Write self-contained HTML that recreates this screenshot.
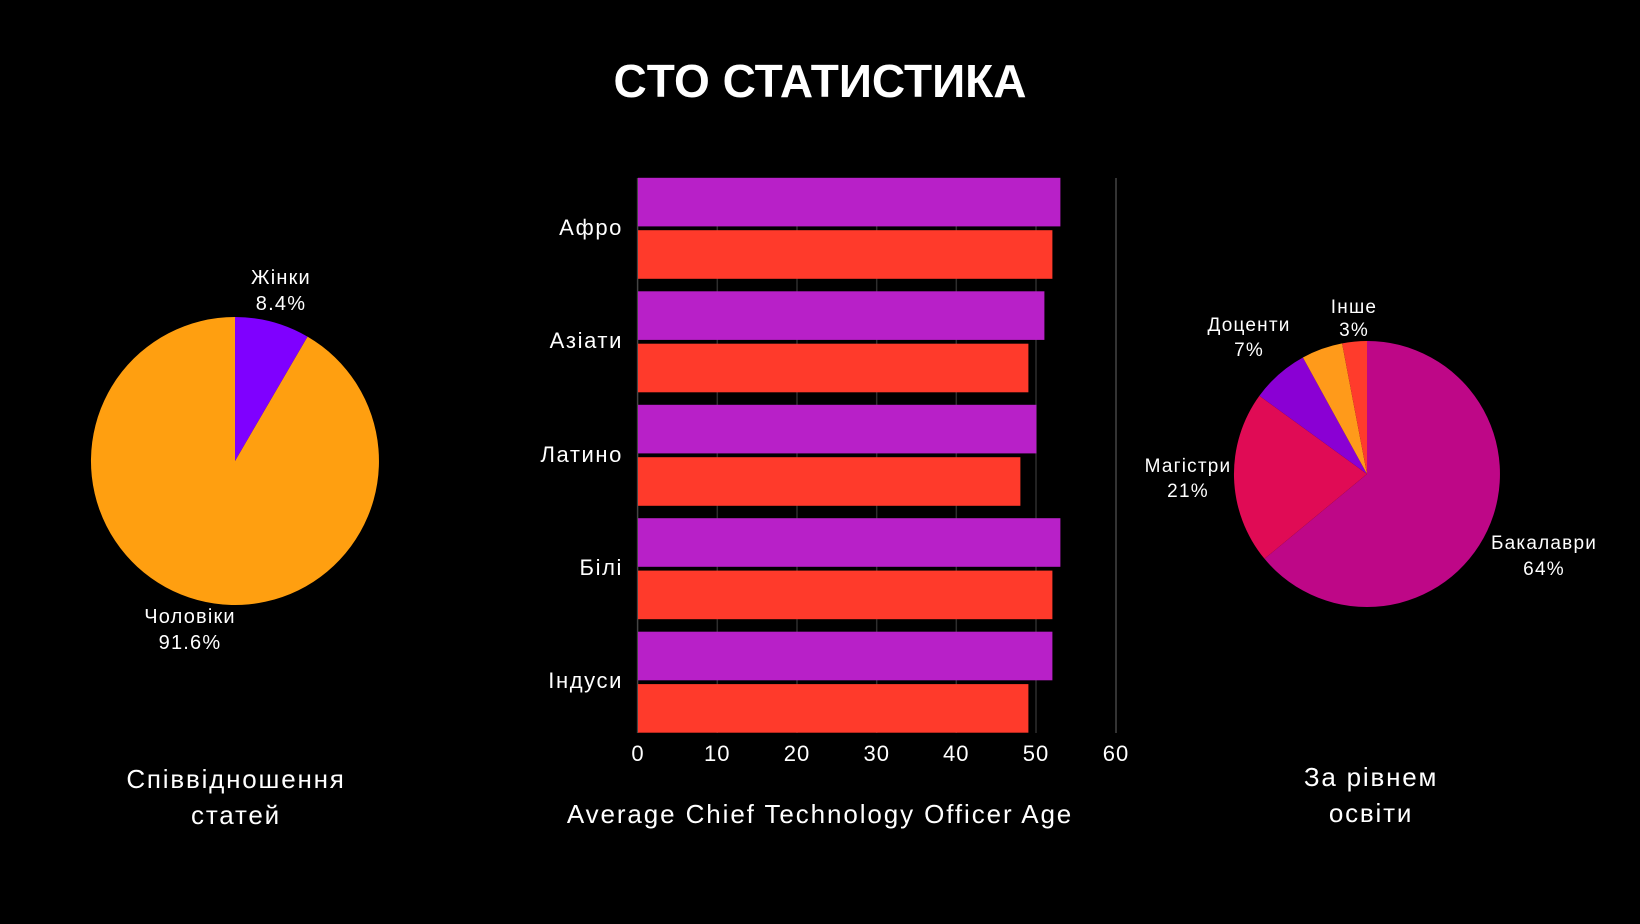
<!DOCTYPE html>
<html><head><meta charset="utf-8"><style>
html,body{margin:0;padding:0;background:#000;}
svg{display:block;font-family:"Liberation Sans",sans-serif;}
</style></head><body>
<svg width="1640" height="924" viewBox="0 0 1640 924" xmlns="http://www.w3.org/2000/svg">
<rect width="1640" height="924" fill="#000"/>
<text x="820" y="97" text-anchor="middle" fill="#fff" font-size="46" font-weight="bold">CTO СТАТИСТИКА</text>

<!-- left pie -->
<path d="M235,461 L235,317 A144,144 0 1,0 307.5,336.6 Z" fill="#FF9F10"/>
<path d="M235,461 L235,317 A144,144 0 0,1 307.5,336.6 Z" fill="#7F00FF"/>
<g fill="#fff" font-size="20" text-anchor="middle" letter-spacing="1.2">
<text x="281" y="284">Жінки</text><text x="281" y="310">8.4%</text>
<text x="190" y="623">Чоловіки</text><text x="190" y="649">91.6%</text>
</g>
<g fill="#fff" font-size="26" text-anchor="middle" letter-spacing="1.8">
<text x="236" y="788">Співвідношення</text><text x="236" y="824">статей</text>
</g>

<!-- bar chart grid -->
<g stroke="#2e2e2e" stroke-width="1.5">
<line x1="717.3" y1="178" x2="717.3" y2="733"/>
<line x1="797" y1="178" x2="797" y2="733"/>
<line x1="876.7" y1="178" x2="876.7" y2="733"/>
<line x1="956.3" y1="178" x2="956.3" y2="733"/>
<line x1="1036" y1="178" x2="1036" y2="733"/>
</g>
<line x1="1116" y1="178" x2="1116" y2="733" stroke="#444" stroke-width="1.5"/>
<line x1="637.6" y1="178" x2="637.6" y2="733" stroke="#444" stroke-width="1.5"/>
<g>
<rect x="638" y="177.8" width="422.4" height="48.6" fill="#B820C8"/>
<rect x="638" y="230.2" width="414.4" height="48.6" fill="#FF3A2B"/>
<rect x="638" y="291.3" width="406.4" height="48.6" fill="#B820C8"/>
<rect x="638" y="343.7" width="390.4" height="48.6" fill="#FF3A2B"/>
<rect x="638" y="404.8" width="398.4" height="48.6" fill="#B820C8"/>
<rect x="638" y="457.2" width="382.4" height="48.6" fill="#FF3A2B"/>
<rect x="638" y="518.2" width="422.4" height="48.6" fill="#B820C8"/>
<rect x="638" y="570.6" width="414.4" height="48.6" fill="#FF3A2B"/>
<rect x="638" y="631.7" width="414.4" height="48.6" fill="#B820C8"/>
<rect x="638" y="684.1" width="390.4" height="48.6" fill="#FF3A2B"/>
</g>
<g fill="#fff" font-size="22" text-anchor="end" letter-spacing="1.6">
<text x="623" y="235">Афро</text>
<text x="623" y="348">Азіати</text>
<text x="623" y="462">Латино</text>
<text x="623" y="575">Білі</text>
<text x="623" y="688">Індуси</text>
</g>
<g fill="#fff" font-size="22" text-anchor="middle" letter-spacing="1">
<text x="638" y="761">0</text>
<text x="717.3" y="761">10</text>
<text x="797" y="761">20</text>
<text x="876.7" y="761">30</text>
<text x="956.3" y="761">40</text>
<text x="1036" y="761">50</text>
<text x="1116" y="761">60</text>
</g>
<text x="820" y="823" text-anchor="middle" fill="#fff" font-size="26" letter-spacing="1.9">Average Chief Technology Officer Age</text>

<!-- right pie -->
<path d="M1367,474 L1367,341 A133,133 0 1,1 1264.5,558.8 Z" fill="#BE0787"/>
<path d="M1367,474 L1264.5,558.8 A133,133 0 0,1 1259.4,395.8 Z" fill="#E00B55"/>
<path d="M1367,474 L1259.4,395.8 A133,133 0 0,1 1302.9,357.5 Z" fill="#8A00D4"/>
<path d="M1367,474 L1302.9,357.5 A133,133 0 0,1 1342.1,343.4 Z" fill="#FF9A1A"/>
<path d="M1367,474 L1342.1,343.4 A133,133 0 0,1 1367,341 Z" fill="#FF3B2C"/>
<g fill="#fff" font-size="19" text-anchor="middle" letter-spacing="1.2">
<text x="1354" y="313">Інше</text><text x="1354" y="336">3%</text>
<text x="1249" y="331">Доценти</text><text x="1249" y="356">7%</text>
<text x="1188" y="472">Магістри</text><text x="1188" y="497">21%</text>
<text x="1544" y="549">Бакалаври</text><text x="1544" y="575">64%</text>
</g>
<g fill="#fff" font-size="26" text-anchor="middle" letter-spacing="1.8">
<text x="1371" y="786">За рівнем</text><text x="1371" y="822">освіти</text>
</g>
</svg>
</body></html>
